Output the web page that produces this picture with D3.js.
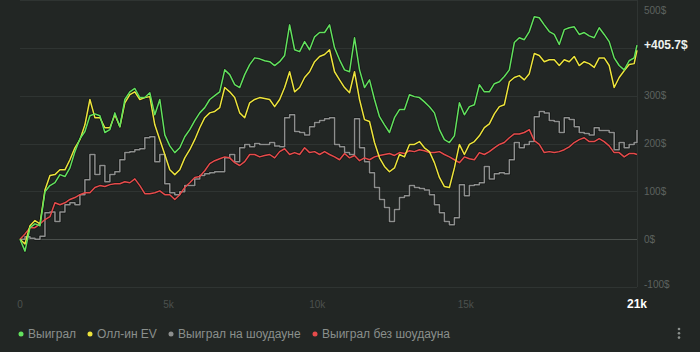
<!DOCTYPE html>
<html>
<head>
<meta charset="utf-8">
<script src="https://cdn.jsdelivr.net/npm/d3@7"></script>
<style>
	html, body { margin: 0; padding: 0; background: #222624; }
	#chart { width: 700px; height: 352px; }
	#chart svg { display: block; }
</style>
</head>
<body>
<div id="chart"><svg></svg></div>
<script>
// hands are sampled every 168 hands, last point is the session end
const handStep = 168;
const totalHands = 20760;

const won = [0, -25, 24, 32, 28, 99, 112, 118, 135, 131, 149, 183, 210, 225, 258, 262, 258, 223, 229, 264,
	235, 292, 308, 315, 296, 296, 306, 260, 292, 218, 195, 181, 191, 214, 229, 248, 264, 275, 292, 300,
	308, 354, 344, 323, 317, 344, 365, 379, 377, 373, 371, 363, 371, 384, 448, 396, 392, 413, 396, 423,
	432, 432, 448, 400, 375, 354, 350, 421, 354, 317, 333, 292, 256, 239, 223, 254, 271, 271, 302, 298,
	296, 287, 277, 264, 229, 208, 202, 216, 285, 260, 277, 281, 323, 308, 308, 325, 329, 340, 354, 411,
	421, 417, 434, 465, 463, 448, 434, 428, 407, 438, 442, 444, 428, 432, 425, 421, 442, 428, 413, 379,
	363, 354, 373, 379, 405.7];

const allinEV = [0, -10, 28, 39, 32, 103, 133, 135, 145, 145, 166, 191, 208, 239, 292, 254, 254, 233, 233, 260,
	235, 285, 302, 308, 292, 296, 298, 239, 208, 177, 145, 135, 145, 170, 187, 208, 233, 254, 264, 267,
	275, 317, 308, 296, 264, 254, 285, 292, 296, 294, 292, 277, 292, 317, 350, 308, 317, 338, 350, 371,
	382, 386, 396, 350, 333, 317, 306, 350, 292, 250, 246, 202, 170, 152, 141, 149, 177, 172, 198, 198,
	204, 191, 183, 160, 129, 110, 108, 149, 198, 177, 198, 204, 216, 233, 241, 262, 277, 281, 329, 338,
	342, 333, 346, 388, 384, 371, 375, 375, 363, 375, 371, 382, 363, 371, 367, 359, 379, 379, 363, 317,
	338, 352, 365, 367, 395];

const wonShowdown = [0, 5, 2, 0, 6, 55, 57, 37, 57, 72, 76, 72, 93, 124, 177, 135, 154, 120, 135, 141,
	166, 181, 183, 187, 189, 212, 214, 162, 177, 116, 97, 93, 99, 112, 112, 126, 133, 137, 139, 141,
	141, 170, 177, 162, 191, 198, 193, 200, 198, 198, 202, 195, 193, 254, 260, 225, 223, 218, 235, 244,
	248, 252, 254, 198, 193, 181, 177, 252, 191, 162, 139, 108, 83, 66, 37, 62, 87, 91, 112, 108,
	106, 103, 93, 72, 55, 37, 30, 45, 114, 91, 112, 114, 118, 152, 126, 137, 139, 137, 166, 202,
	191, 198, 204, 256, 267, 264, 248, 246, 223, 254, 250, 235, 223, 221, 218, 233, 227, 227, 223, 187,
	202, 191, 198, 202, 228];

const wonNoShowdown = [0, 11, 24, 24, 32, 41, 47, 76, 72, 76, 83, 87, 93, 97, 97, 108, 112, 110, 114, 116,
	116, 120, 118, 126, 112, 95, 95, 97, 101, 93, 93, 83, 93, 108, 118, 129, 131, 143, 158, 164,
	168, 172, 170, 160, 154, 162, 177, 177, 172, 175, 177, 170, 183, 189, 177, 181, 177, 191, 181, 183,
	177, 183, 177, 172, 166, 179, 170, 175, 164, 170, 166, 172, 175, 177, 179, 175, 181, 179, 185, 183,
	187, 185, 181, 181, 183, 177, 172, 166, 160, 172, 168, 166, 181, 177, 183, 191, 198, 202, 212, 220,
	220, 223, 229, 206, 198, 181, 183, 181, 183, 187, 193, 202, 208, 212, 204, 204, 210, 204, 195, 181,
	181, 172, 179, 179, 177];

const seriesNames = ['Выиграл', 'Олл-ин EV', 'Выиграл на шоудауне', 'Выиграл без шоудауна'];
const yTicks = [500, 400, 300, 200, 100, 0, -100];
const xTicks = [0, 5000, 10000, 15000];
const xTickLabels = ['0', '5k', '10k', '15k'];
const lastHandLabel = '21k';

function ProfitChart(){
	const self = {
		_width: 700,
		_height: 352,
		_plotLeft: 20,
		_plotRight: 637,
		_plotTop: 0,
		_plotBottom: 287,
		_legendY: 334,
		_font: 'Arial, "Liberation Sans", sans-serif',
		_colors: ['#62e15e', '#ede43c', '#8d8f8e', '#e64b4b'],
		// showdown winnings move in big pots, so they read as steps
		_curves: [d3.curveLinear, d3.curveLinear, d3.curveStepAfter, d3.curveLinear],
	};

	function _init(){
		self.render = _render;
		return self;
	}

	function _hands(values){
		return values.map((d, i) => i === values.length - 1 ? totalHands : i * handStep);
	}

	function _renderGrid(svg, x, y){
		const g = svg.append('g').attr('class', 'grid');

		g.selectAll('line.h')
			.data(yTicks)
			.join('line')
			.attr('class', 'h')
			.attr('x1', self._plotLeft)
			.attr('x2', self._plotRight)
			.attr('y1', d => Math.round(y(d)) + 0.5)
			.attr('y2', d => Math.round(y(d)) + 0.5)
			.attr('stroke', d => d === 0 ? '#4a4f4c' : '#2f3432')
			.attr('stroke-width', 1);

		g.append('line')
			.attr('x1', self._plotRight + 0.5)
			.attr('x2', self._plotRight + 0.5)
			.attr('y1', self._plotTop)
			.attr('y2', self._plotBottom)
			.attr('stroke', '#2f3432');
	}

	function _renderAxes(svg, x, y, lastValue){
		const lastY = y(lastValue);

		// y labels sit on the right, clamped inside the plot height
		svg.append('g')
			.attr('font-family', self._font)
			.attr('font-size', 10)
			.attr('fill', '#5d625f')
			.selectAll('text')
			.data(yTicks.filter(d => Math.abs(y(d) - lastY) > 12))
			.join('text')
			.attr('x', self._plotRight + 7)
			.attr('y', d => Math.min(Math.max(y(d), 10), 284))
			.attr('dy', '0.35em')
			.text(d => `${d}$`);

		svg.append('text')
			.attr('x', self._plotRight + 7)
			.attr('y', lastY)
			.attr('dy', '0.35em')
			.attr('font-family', self._font)
			.attr('font-size', 12)
			.attr('font-weight', 'bold')
			.attr('fill', '#eef2ee')
			.text(`+${lastValue.toFixed(1)}$`);

		svg.append('g')
			.attr('font-family', self._font)
			.attr('font-size', 10)
			.attr('fill', '#4c514e')
			.attr('text-anchor', 'middle')
			.selectAll('text')
			.data(xTicks)
			.join('text')
			.attr('x', d => x(d))
			.attr('y', 304)
			.attr('dy', '0.35em')
			.text((d, i) => xTickLabels[i]);

		svg.append('text')
			.attr('x', x(totalHands))
			.attr('y', 304)
			.attr('dy', '0.35em')
			.attr('text-anchor', 'middle')
			.attr('font-family', self._font)
			.attr('font-size', 12)
			.attr('font-weight', 'bold')
			.attr('fill', '#ffffff')
			.text(lastHandLabel);
	}

	function _renderLines(svg, series, x, y){
		const line = i => d3.line()
			.curve(self._curves[i])
			.x(d => x(d[0]))
			.y(d => y(d[1]))
			(series[i]);

		// draw back to front: showdown, no showdown, EV, won
		const order = [2, 3, 1, 0];
		const g = svg.append('g').attr('class', 'lines').attr('fill', 'none');

		g.selectAll('path.shadow')
			.data(order)
			.join('path')
			.attr('class', 'shadow')
			.attr('d', line)
			.attr('stroke', 'rgba(0,0,0,0.4)')
			.attr('stroke-width', 3)
			.attr('stroke-linejoin', 'round');

		g.selectAll('path.series')
			.data(order)
			.join('path')
			.attr('class', 'series')
			.attr('d', line)
			.attr('stroke', i => self._colors[i])
			.attr('stroke-width', 1.5)
			.attr('stroke-linejoin', 'round');
	}

	function _renderLegend(svg){
		const xs = [21, 90, 171, 315];
		const g = svg.append('g')
			.attr('font-family', self._font)
			.attr('font-size', 12)
			.attr('fill', '#8a8f8c');

		const items = g.selectAll('g')
			.data(seriesNames)
			.join('g')
			.attr('transform', (d, i) => `translate(${xs[i]}, ${self._legendY})`);

		items.append('circle')
			.attr('r', 2.5)
			.attr('fill', (d, i) => self._colors[i]);

		items.append('text')
			.attr('x', 7)
			.attr('dy', '0.35em')
			.text(d => d);

		// menu dots
		svg.append('g')
			.selectAll('circle')
			.data([329, 333.3, 337.6])
			.join('circle')
			.attr('cx', 679)
			.attr('cy', d => d)
			.attr('r', 1.3)
			.attr('fill', '#8a8f8c');
	}

	function _render(container){
		const svg = d3.select(container).select('svg')
			.attr('width', self._width)
			.attr('height', self._height);

		svg.append('rect')
			.attr('width', self._width)
			.attr('height', self._height)
			.attr('fill', '#222624');

		const x = d3.scaleLinear()
			.domain([0, totalHands])
			.range([self._plotLeft, self._plotRight]);
		const y = d3.scaleLinear()
			.domain([-100, 500])
			.range([self._plotBottom, self._plotTop]);

		const series = [won, allinEV, wonShowdown, wonNoShowdown]
			.map(values => d3.zip(_hands(values), values));

		_renderGrid(svg, x, y);
		_renderLines(svg, series, x, y);
		_renderAxes(svg, x, y, won[won.length - 1]);
		_renderLegend(svg);
	}

	return _init();
}

ProfitChart().render(document.getElementById('chart'));
</script>
</body>
</html>
